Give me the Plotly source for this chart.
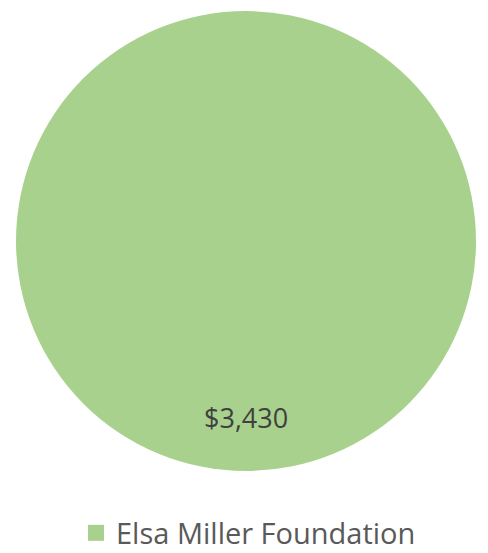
import plotly.graph_objects as go

# Data
categories = ["Elsa Miller Foundation"]
values = [3430]
colors = ["#A9D18E"]

W, H = 488, 553
FONT = "Open Sans"

fig = go.Figure()

fig.add_trace(go.Pie(
    labels=categories,
    values=values,
    marker=dict(colors=colors, line=dict(width=0)),
    textinfo="none",
    hoverinfo="label+value",
    sort=False,
    showlegend=False,
    domain=dict(x=[16 / W, 476 / W], y=[1 - 472 / H, 1 - 10 / H]),
))

# legend entry (square swatch)
fig.add_trace(go.Scatter(
    x=[None], y=[None], mode="markers", name=categories[0],
    marker=dict(symbol="square", size=16, color=colors[0]),
    showlegend=True, hoverinfo="skip",
))

# data label
fig.add_annotation(
    x=246 / W, y=1 - 417 / H, xref="paper", yref="paper",
    text=f"${values[0]:,}", showarrow=False,
    font=dict(family=FONT, size=27, color="#404040"),
    xanchor="center", yanchor="middle",
)

fig.update_layout(
    width=W, height=H,
    margin=dict(l=0, r=0, t=0, b=0, autoexpand=False),
    paper_bgcolor="white", plot_bgcolor="white",
    xaxis=dict(visible=False), yaxis=dict(visible=False),
    legend=dict(
        orientation="h", x=76 / W, xanchor="left",
        y=1 - 533 / H, yanchor="middle",
        font=dict(family=FONT, size=29, color="#595959"),
        bgcolor="rgba(0,0,0,0)",
    ),
)

fig.write_html(
    "out.html",
    config={"displayModeBar": False},
    post_script="document.body.style.margin='0';document.body.style.overflow='hidden';",
)
